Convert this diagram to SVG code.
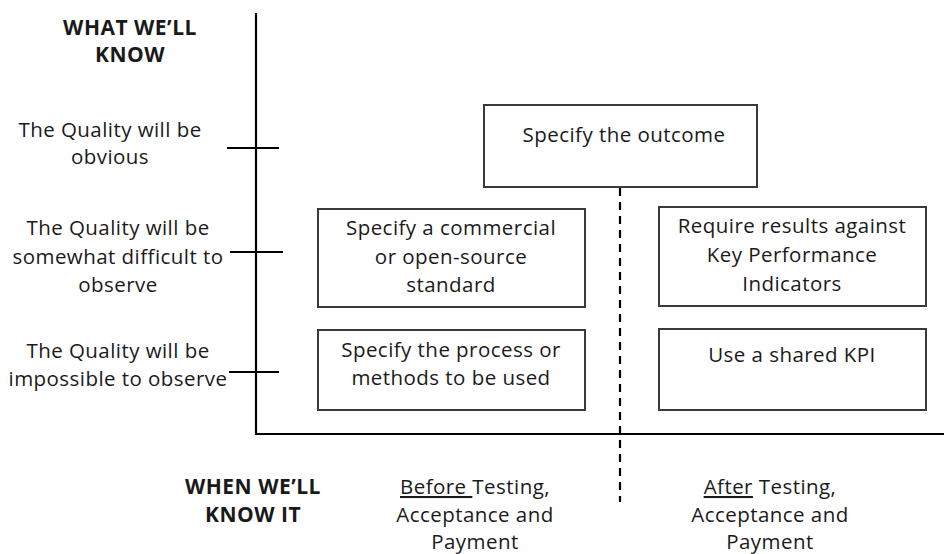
<svg xmlns="http://www.w3.org/2000/svg" width="944" height="554" viewBox="0 0 944 554">
<style>
text{font-family:"Open Sans","Noto Sans",sans-serif;font-size:20.5px;letter-spacing:0.45px;fill:#1a1a1a;text-anchor:middle}
.b{font-weight:bold;font-size:21px;letter-spacing:0.5px}
.box{fill:#fff;stroke:#3a3a3a;stroke-width:2}
.ax{stroke:#000;stroke-width:2.2;fill:none}
.dash{stroke:#000;stroke-width:2.2;stroke-dasharray:8 6;fill:none}
</style>
<rect width="944" height="554" fill="#fff"/>
<g id="connectors">
<path class="ax" d="M256 13V434H944"/>
<path class="ax" d="M227 148H279M230 252H283M229 372H279"/>
<path class="dash" d="M620 188V502"/>
</g>
<g id="axis-labels">
<text class="b" x="130" y="35">WHAT WE’LL</text>
<text class="b" x="130" y="62">KNOW</text>
<text x="110" y="137">The Quality will be</text>
<text x="110" y="164">obvious</text>
<text x="118" y="235">The Quality will be</text>
<text x="118" y="264">somewhat difficult to</text>
<text x="118" y="292">observe</text>
<text x="118" y="358">The Quality will be</text>
<text x="118" y="386">impossible to observe</text>
<text class="b" x="253" y="494">WHEN WE’LL</text>
<text class="b" x="253" y="522">KNOW IT</text>
<text x="475" y="494"><tspan text-decoration="underline">Before </tspan>Testing,</text>
<text x="475" y="522">Acceptance and</text>
<text x="475" y="549">Payment</text>
<text x="770" y="494"><tspan text-decoration="underline">After</tspan> Testing,</text>
<text x="770" y="522">Acceptance and</text>
<text x="770" y="549">Payment</text>
</g>
<g id="outcome">
<rect class="box" x="484" y="105" width="273" height="82"/>
<text x="624" y="142">Specify the outcome</text>
</g>
<g id="standard">
<rect class="box" x="318" y="209" width="267" height="98"/>
<text x="451" y="235">Specify a commercial</text>
<text x="451" y="264">or open-source</text>
<text x="451" y="292">standard</text>
</g>
<g id="process">
<rect class="box" x="318" y="330" width="267" height="80"/>
<text x="451" y="357">Specify the process or</text>
<text x="451" y="385">methods to be used</text>
</g>
<g id="kpi-results">
<rect class="box" x="659" y="207" width="267" height="99"/>
<text x="792" y="233">Require results against</text>
<text x="792" y="262">Key Performance</text>
<text x="792" y="291">Indicators</text>
</g>
<g id="shared-kpi">
<rect class="box" x="659" y="329" width="267" height="81"/>
<text x="792" y="362">Use a shared KPI</text>
</g>
</svg>
